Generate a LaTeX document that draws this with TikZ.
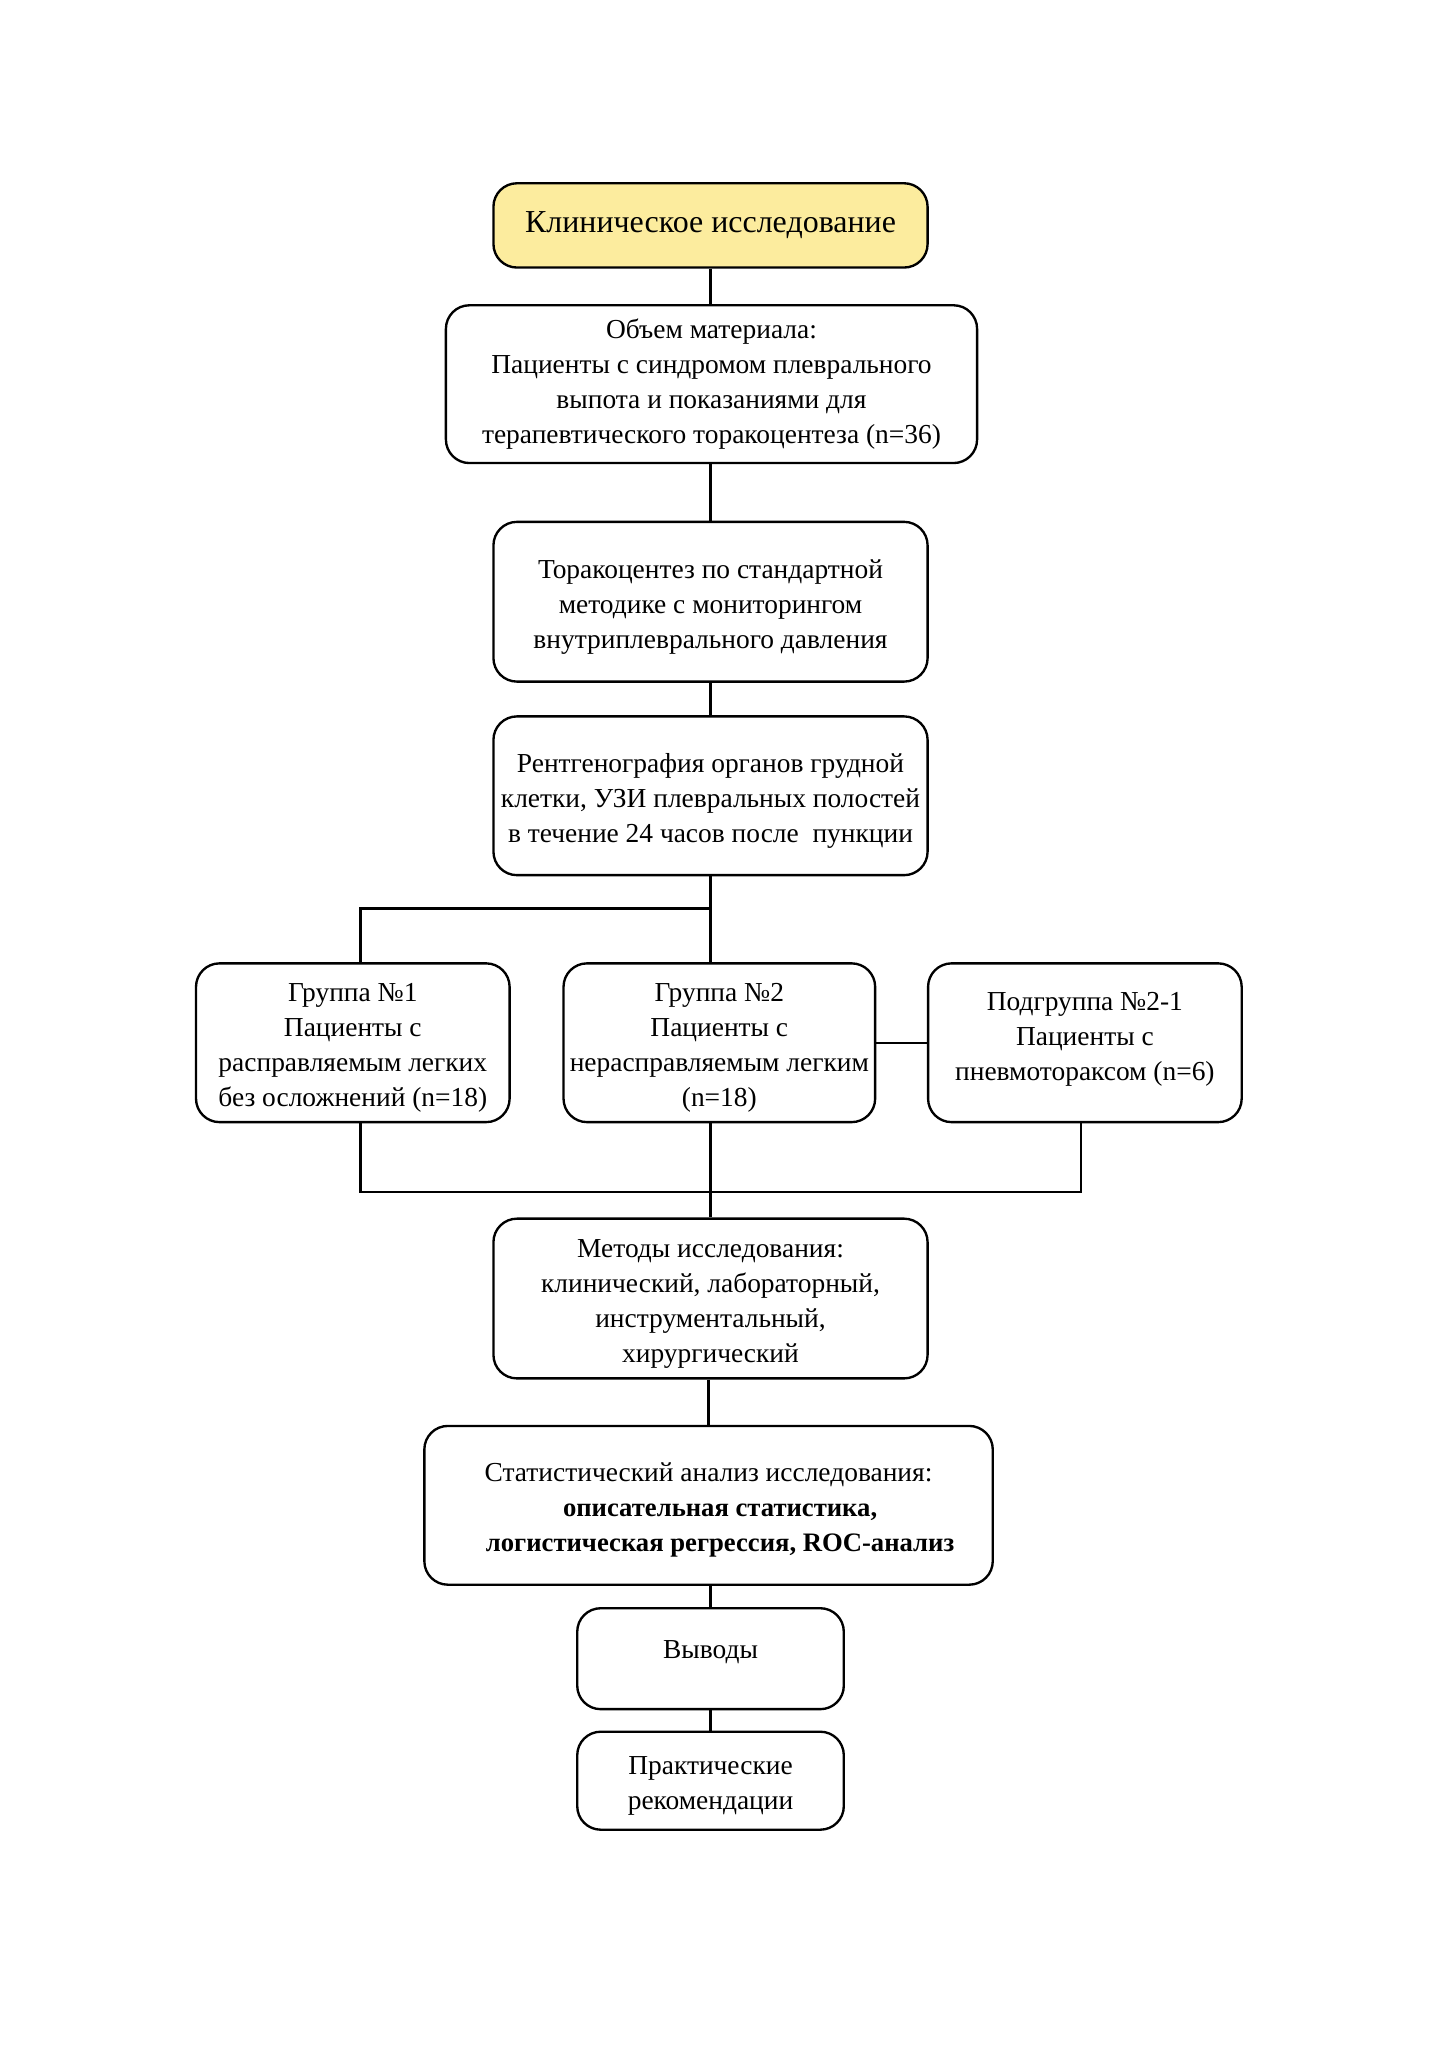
\documentclass[tikz,border=0pt]{standalone}
\usepackage{fontspec}
\setmainfont{Liberation Serif}
\definecolor{titlefill}{RGB}{252,236,158}
\newcommand\bxt[2]{\raisebox{#1}[\height][\depth]{\begin{tabular}{@{}c@{}}#2\end{tabular}}}
\begin{document}
\begin{tikzpicture}[x=0.5pt,y=-0.5pt,
  box/.style={draw, line width=1.2pt, rounded corners=12pt, align=center,
    inner sep=1pt, font=\fontsize{14}{17.8}\selectfont},
  conn/.style={line width=1.2pt}]
\fill[white] (0,0) rectangle (1478.6,2091.8);
\useasboundingbox (0,0) rectangle (1478.6,2091.8);

\node[box, fill=titlefill, minimum width=221.5pt, minimum height=43pt,
  font=\fontsize{16.3}{19.5}\selectfont] (b1) at (725,230) {Клиническое исследование};
\node[box, minimum width=271pt, minimum height=80.5pt] (b2) at (726,392)
  {Объем материала:\\Пациенты с синдромом плеврального\\выпота и показаниями для\\терапевтического торакоцентеза (n=36)};
\node[box, minimum width=221.5pt, minimum height=81.5pt] (b3) at (725,614)
  {\bxt{-2.3pt}{Торакоцентез по стандартной\\методике с мониторингом\\внутриплеврального давления}};
\node[box, minimum width=221.5pt, minimum height=81pt] (b4) at (725,812)
  {\bxt{-2.3pt}{Рентгенография органов грудной\\клетки, УЗИ плевральных полостей\\в течение 24 часов после \ пункции}};

\node[box, minimum width=160pt, minimum height=81pt] (g1) at (360,1064)
  {\bxt{-2.3pt}{Группа №1\\Пациенты с\\расправляемым легких\\без осложнений (n=18)}};
\node[box, minimum width=159pt, minimum height=81pt] (g2) at (734,1064)
  {\bxt{-2.3pt}{Группа №2\\Пациенты с\\нерасправляемым легким\\(n=18)}};
\node[box, minimum width=160pt, minimum height=81pt] (sg) at (1107,1064)
  {\bxt{2.2pt}{Подгруппа №2-1\\Пациенты с\\пневмотораксом (n=6)}};

\node[box, minimum width=221.5pt, minimum height=81.5pt] (m) at (725,1325)
  {\bxt{-2.3pt}{Методы исследования:\\клинический, лабораторный,\\инструментальный,\\хирургический}};
\node[box, minimum width=290pt, minimum height=81pt] (s) at (723,1536)
  {\bxt{-2.3pt}{Статистический анализ исследования:\\\hspace*{11.8pt}{\fontsize{13.6}{17.8}\selectfont\bfseries описательная статистика,}\\\hspace*{11.8pt}{\fontsize{13.6}{17.8}\selectfont\bfseries логистическая регрессия, ROC-анализ}}};
\node[box, minimum width=136pt, minimum height=51.5pt] (c) at (725,1692.5)
  {\raisebox{9pt}{Выводы}};
\node[box, minimum width=136pt, minimum height=50pt] (p) at (725,1817)
  {\bxt{-2.3pt}{Практические\\рекомендации}};

\coordinate (split) at (725,927);
\coordinate (join) at (725,1216);

\draw[conn] (b1.south) -- (b1.south |- b2.north);
\draw[conn] (b2.south -| b1.south) -- (b3.north);
\draw[conn] (b3.south) -- (b4.north);
\draw[conn] (b4.south) -- (b4.south |- g2.north);
\draw[conn] (split) -| ([xshift=4pt]g1.north);
\draw[conn] (g2.east) -- (sg.west);
\draw[conn] ([xshift=4pt]g1.south) |- (join) -| ([xshift=-2pt]sg.south);
\draw[conn] (g2.south -| m.north) -- (m.north);
\draw[conn] (m.south -| s.north) -- (s.north);
\draw[conn] (s.south -| c.north) -- (c.north);
\draw[conn] (c.south) -- (p.north);
\end{tikzpicture}
\end{document}
